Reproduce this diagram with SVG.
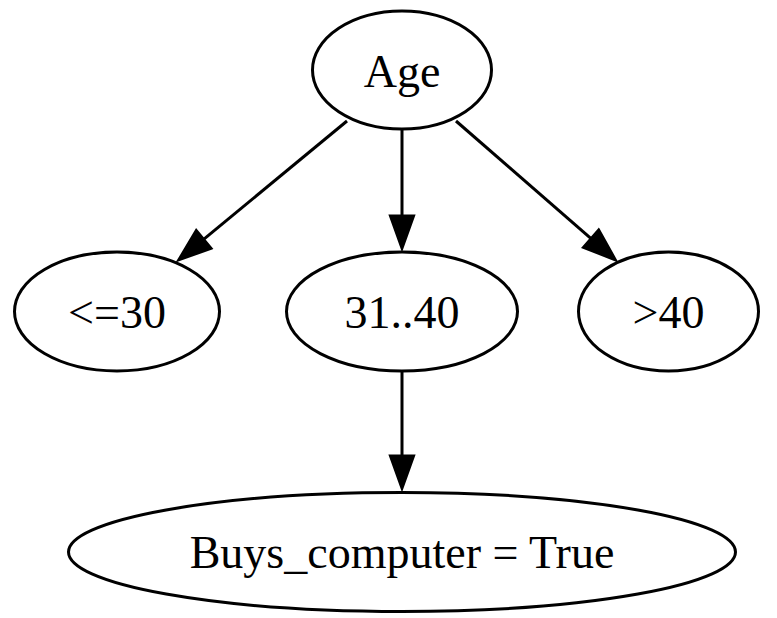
<svg xmlns="http://www.w3.org/2000/svg" width="777" height="618" viewBox="0 0 777 618">
<style>
.n ellipse{fill:none;stroke:#000;stroke-width:3}
.n text{font-family:"Liberation Serif","Times New Roman",serif;font-size:46px;text-anchor:middle;fill:#000}
.e line{stroke:#000;stroke-width:3;marker-end:url(#ah)}
</style>
<defs>
<marker id="ah" markerUnits="userSpaceOnUse" viewBox="-4 -15 44 30" refX="0" refY="0" markerWidth="44" markerHeight="30" orient="auto" overflow="visible">
<path d="M0,-11.5 L32,0 L0,11.5 Z" fill="#000" stroke="#000" stroke-width="3"/>
</marker>
</defs>
<rect width="777" height="618" fill="#fff"/>
<g id="edges" class="e">
<line x1="347" y1="121" x2="203.6" y2="239.4"/>
<line x1="402" y1="129" x2="402" y2="216"/>
<line x1="456" y1="121" x2="591.1" y2="238.7"/>
<line x1="402" y1="371" x2="402" y2="456"/>
</g>
<g id="age" class="n"><ellipse cx="402" cy="70" rx="89.5" ry="59"/><text x="402" y="86.5">Age</text></g>
<g id="le30" class="n"><ellipse cx="117" cy="311.5" rx="102.5" ry="59.5"/><text x="117" y="328">&lt;=30</text></g>
<g id="r3140" class="n"><ellipse cx="402" cy="311.5" rx="115.5" ry="59.5"/><text x="402" y="328">31..40</text></g>
<g id="gt40" class="n"><ellipse cx="668.5" cy="311.5" rx="90" ry="59.5"/><text x="668.5" y="328">&gt;40</text></g>
<g id="buys" class="n"><ellipse cx="402" cy="552" rx="333.5" ry="59.5"/><text x="402" y="567.5">Buys_computer = True</text></g>
</svg>
